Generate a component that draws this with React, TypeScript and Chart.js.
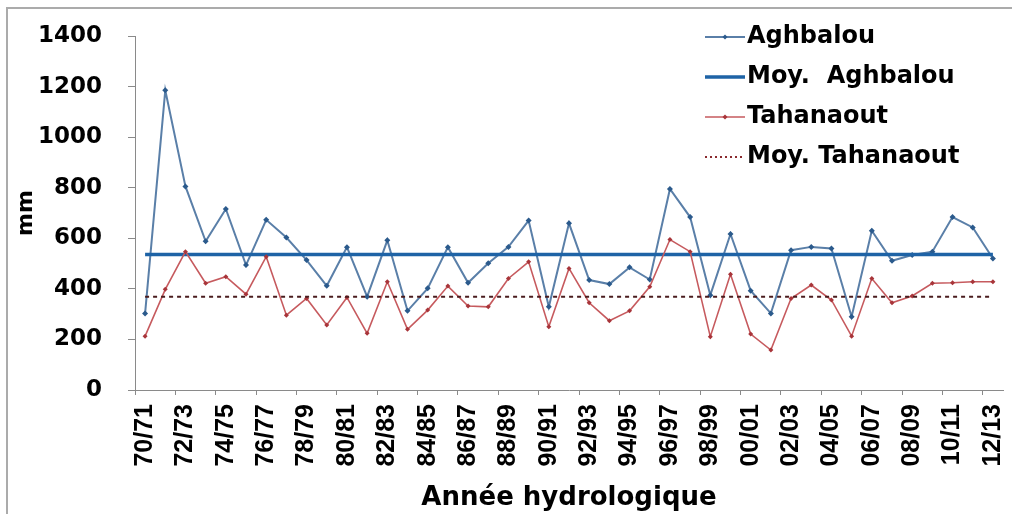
import React, { useEffect, useRef } from 'react';
import { Chart, registerables } from 'chart.js';

Chart.register(...registerables);

const years = [
  '70/71', '71/72', '72/73', '73/74', '74/75', '75/76', '76/77', '77/78', '78/79', '79/80',
  '80/81', '81/82', '82/83', '83/84', '84/85', '85/86', '86/87', '87/88', '88/89', '89/90',
  '90/91', '91/92', '92/93', '93/94', '94/95', '95/96', '96/97', '97/98', '98/99', '99/00',
  '00/01', '01/02', '02/03', '03/04', '04/05', '05/06', '06/07', '07/08', '08/09', '09/10',
  '10/11', '11/12', '12/13',
];

const aghbalou = [
  303, 1185, 805, 588, 716, 494, 673, 603, 514, 412,
  565, 369, 592, 313, 402, 565, 424, 501, 566, 670,
  329, 659, 435, 419, 485, 437, 795, 684, 375, 617,
  393, 303, 553, 566, 560, 290, 630, 511, 534, 547,
  684, 643, 520,
];

const tahanaout = [
  213, 398, 547, 422, 448, 379, 527, 296, 362, 257,
  366, 224, 428, 240, 316, 411, 332, 329, 441, 507,
  250, 481, 345, 274, 313, 408, 595, 547, 211, 458,
  221, 158, 362, 415, 356, 213, 441, 345, 372, 422,
  424, 428, 428,
];

const moyAghbalou = 536;
const moyTahanaout = 369;

const seriesLabels = ['Aghbalou', 'Moy.  Aghbalou', 'Tahanaout', 'Moy. Tahanaout'];
const yAxisTitle = 'mm';
const xAxisTitle = 'Année hydrologique';

const legendPlugin = {
  id: 'insideLegend',
  afterDraw(chart: any) {
    const { ctx, chartArea } = chart;
    const x0 = chartArea.right - 298;
    const y0 = chartArea.top + 1;
    ctx.save();
    chart.data.datasets.forEach((ds: any, i: number) => {
      const y = y0 + i * 40;
      ctx.beginPath();
      ctx.setLineDash(ds.legendDash || ds.borderDash || []);
      ctx.lineWidth = ds.borderWidth;
      ctx.strokeStyle = ds.legendColor || ds.borderColor;
      ctx.moveTo(x0, y);
      ctx.lineTo(x0 + 40, y);
      ctx.stroke();
      ctx.setLineDash([]);
      if (ds.pointRadius > 0) {
        const r = 2.5;
        const cx = x0 + 20;
        ctx.beginPath();
        ctx.moveTo(cx, y - r);
        ctx.lineTo(cx + r, y);
        ctx.lineTo(cx, y + r);
        ctx.lineTo(cx - r, y);
        ctx.closePath();
        ctx.fillStyle = ds.pointBackgroundColor;
        ctx.fill();
      }
      ctx.fillStyle = '#000';
      ctx.font = 'bold 24px "DejaVu Sans"';
      ctx.textBaseline = 'middle';
      ctx.textAlign = 'left';
      ctx.fillText(ds.label, x0 + 42, y);
    });
    ctx.restore();
  },
};

export default function App() {
  const ref = useRef<HTMLCanvasElement>(null);

  useEffect(() => {
    const chart = new Chart(ref.current as HTMLCanvasElement, {
      type: 'line',
      data: {
        labels: years,
        datasets: [
          {
            label: seriesLabels[0],
            data: aghbalou,
            borderColor: '#5a7fa8',
            borderWidth: 2,
            pointStyle: 'rectRot',
            pointRadius: 3,
            pointBorderWidth: 0,
            pointBackgroundColor: '#2b5a8c',
            tension: 0,
            order: 4,
          } as any,
          {
            label: seriesLabels[1],
            data: [
              { x: years[0], y: moyAghbalou },
              { x: years[years.length - 1], y: moyAghbalou },
            ],
            borderColor: '#1e63a6',
            borderWidth: 3.5,
            pointRadius: 0,
            order: 3,
          } as any,
          {
            label: seriesLabels[2],
            data: tahanaout,
            borderColor: '#c65a5e',
            borderWidth: 1.6,
            pointStyle: 'rectRot',
            pointRadius: 2.5,
            pointBorderWidth: 0,
            pointBackgroundColor: '#a8353a',
            tension: 0,
            order: 2,
          } as any,
          {
            label: seriesLabels[3],
            data: [
              { x: years[0], y: moyTahanaout },
              { x: years[years.length - 1], y: moyTahanaout },
            ],
            borderColor: '#4a1c1e',
            legendColor: '#8a2a2e',
            borderWidth: 2,
            borderDash: [4, 4],
            legendDash: [2, 3],
            pointRadius: 0,
            order: 1,
          } as any,
        ],
      },
      options: {
        animation: false,
        responsive: true,
        maintainAspectRatio: false,
        layout: { padding: { left: 0, top: 36, right: 9, bottom: 0 } },
        plugins: {
          legend: { display: false },
          tooltip: { enabled: false },
        },
        scales: {
          x: {
            type: 'category',
            offset: true,
            afterFit: (scale: any) => {
              scale.height = 124;
              scale.paddingLeft = 0;
              scale.paddingRight = 0;
            },
            border: { display: true, color: '#8a8a8a', width: 1 },
            grid: {
              display: true,
              drawOnChartArea: false,
              offset: true,
              tickLength: 5,
              tickColor: (c: any) => (c.index % 2 === 0 ? '#8a8a8a' : 'rgba(0,0,0,0)'),
            },
            ticks: {
              autoSkip: false,
              maxRotation: 90,
              minRotation: 90,
              padding: 9,
              color: '#000',
              font: { family: '"Liberation Sans", Arial, sans-serif', size: 25, weight: 'bold' },
              callback: (_v: any, i: number) => (i % 2 === 0 ? years[i] : ''),
            },
            title: {
              display: true,
              text: xAxisTitle,
              color: '#000',
              font: { family: '"DejaVu Sans", sans-serif', size: 26, weight: 'bold' },
              padding: { top: 0, bottom: 0 },
            },
          },
          y: {
            min: 0,
            max: 1400,
            afterFit: (scale: any) => {
              scale.width = 135;
              scale.paddingTop = 0;
              scale.paddingBottom = 0;
            },
            border: { display: true, color: '#8a8a8a', width: 1 },
            grid: {
              display: true,
              drawOnChartArea: false,
              tickLength: 7,
              tickColor: '#8a8a8a',
            },
            ticks: {
              stepSize: 200,
              padding: 26,
              color: '#000',
              font: { family: '"DejaVu Sans", sans-serif', size: 23, weight: 'bold' },
              callback: (v: any) => String(v),
            },
            title: {
              display: true,
              text: yAxisTitle,
              color: '#000',
              font: { family: '"DejaVu Sans", sans-serif', size: 22, weight: 'bold' },
              padding: { top: 13, bottom: 0 },
            },
          },
        },
      } as any,
      plugins: [legendPlugin],
    });
    return () => chart.destroy();
  }, []);

  return (
    <div style={{ position: 'fixed', left: 0, top: 0, width: 1012, height: 514, background: '#fff' }}>
      <div
        style={{
          position: 'absolute',
          left: 6,
          top: 7,
          width: 1006,
          height: 507,
          borderTop: '2px solid #ababab',
          borderLeft: '2px solid #ababab',
          boxSizing: 'border-box',
        }}
      />
      <div style={{ position: 'absolute', left: 0, top: 0, width: 1012, height: 514 }}>
        <canvas ref={ref} />
      </div>
    </div>
  );
}
